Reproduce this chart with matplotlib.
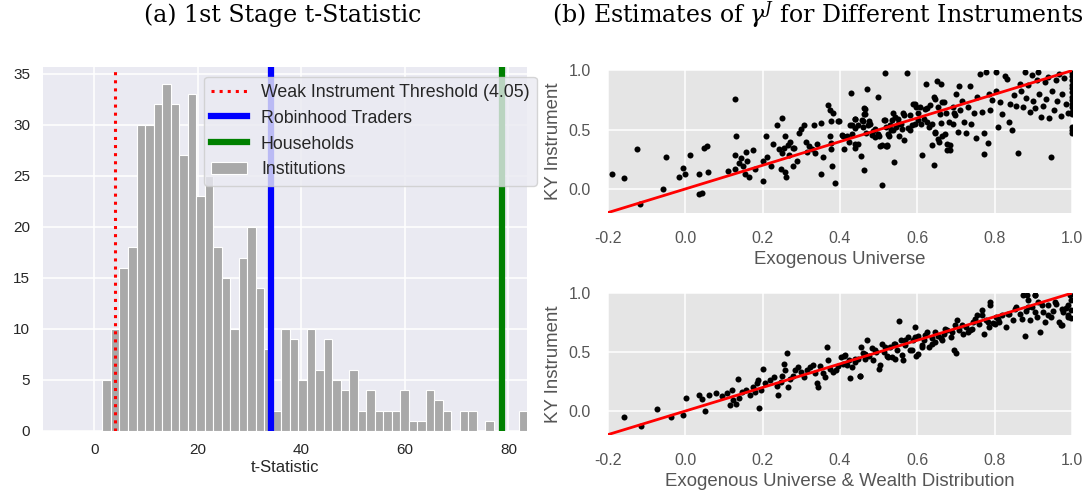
import numpy as np
import matplotlib
matplotlib.use("Agg")
import matplotlib.pyplot as plt

plt.rcParams['font.family'] = ['Liberation Sans', 'DejaVu Sans']
plt.rcParams['mathtext.fontset'] = 'dejavuserif'

# (a) first stage t-statistics: institutions histogram (50 equal bins)
t_lo, t_hi = 1.55, 83.75
inst_counts = [5, 10, 16, 18, 30, 30, 32, 34, 32, 27,
               33, 23, 25, 18, 15, 10, 17, 20, 14, 8,
               2, 10, 9, 5, 10, 6, 9, 5, 4, 6,
               2, 4, 2, 2, 2, 4, 1, 1, 4, 3,
               2, 0, 2, 2, 0, 1, 0, 0, 0, 2]
weak_threshold = 4.05
robinhood_t = 34.2
households_t = 78.7

# (b) gamma^J estimates, KY instrument vs exogenous universe
top_x = [-0.19, -0.157, -0.124, -0.117, -0.057, -0.05, -0.015, -0.006, 0.0, 0.012,
         0.036, 0.036, 0.043, 0.05, 0.056, 0.058, 0.11, 0.129, 0.131, 0.128,
         0.129, 0.138, 0.145, 0.149, 0.154, 0.158, 0.16, 0.164, 0.176, 0.18,
         0.2, 0.202, 0.21, 0.211, 0.222, 0.227, 0.238, 0.243, 0.247, 0.25,
         0.251, 0.256, 0.258, 0.259, 0.26, 0.265, 0.269, 0.272, 0.278, 0.282,
         0.278, 0.289, 0.293, 0.30, 0.307, 0.313, 0.316, 0.32, 0.327, 0.334,
         0.336, 0.34, 0.351, 0.351, 0.355, 0.369, 0.375, 0.382, 0.374, 0.377,
         0.378, 0.378, 0.38, 0.387, 0.396, 0.407, 0.411, 0.418, 0.422, 0.429,
         0.43, 0.438, 0.438, 0.44, 0.447, 0.455, 0.46, 0.462, 0.462, 0.465,
         0.469, 0.467, 0.473, 0.476, 0.485, 0.491, 0.497, 0.50, 0.504, 0.509,
         0.513, 0.518, 0.516, 0.518, 0.522, 0.526, 0.531, 0.535, 0.538, 0.54,
         0.544, 0.549, 0.553, 0.557, 0.562, 0.566, 0.573, 0.575, 0.582, 0.588,
         0.593, 0.597, 0.602, 0.609, 0.611, 0.618, 0.621, 0.624, 0.629, 0.637,
         0.642, 0.644, 0.646, 0.651, 0.653, 0.655, 0.658, 0.66, 0.662, 0.664,
         0.668, 0.673, 0.676, 0.677, 0.682, 0.691, 0.695, 0.70, 0.704, 0.707,
         0.71, 0.716, 0.719, 0.726, 0.731, 0.735, 0.739, 0.745, 0.751, 0.753,
         0.761, 0.766, 0.771, 0.773, 0.777, 0.782, 0.784, 0.788, 0.793, 0.802,
         0.802, 0.808, 0.813, 0.819, 0.825, 0.83, 0.837, 0.839, 0.843, 0.849,
         0.855, 0.859, 0.864, 0.868, 0.872, 0.877, 0.881, 0.886, 0.89, 0.895,
         0.899, 0.904, 0.908, 0.911, 0.914, 0.919, 0.923, 0.929, 0.932, 0.938,
         0.941, 0.944, 0.948, 0.952, 0.957, 0.961, 0.965, 0.97, 0.974, 0.979,
         0.984, 0.988, 0.998, 0.998, 0.998, 0.998, 0.998, 0.998, 0.998, 0.998,
         0.998, 0.998, 0.998, 0.998, 0.998, 0.998, 0.998,
         0.516, 0.529, 0.542, 0.538, 0.551, 0.559, 0.564, 0.525, 0.508, 0.521,
         0.499, 0.490, 0.482, 0.465, 0.463, 0.439, 0.426, 0.413, 0.439, 0.594,
         0.607, 0.620, 0.633, 0.645, 0.663, 0.645, 0.654, 0.671, 0.684, 0.684,
         0.693, 0.697, 0.624, 0.637, 0.602, 0.585, 0.581, 0.478, 0.456, 0.460,
         0.447, 0.430, 0.404, 0.397]
top_y = [0.13, 0.09, 0.34, -0.13, 0.00, 0.27, 0.10, 0.18, 0.13, 0.29,
         0.13, -0.045, -0.03, 0.35, 0.36, 0.14, 0.15, 0.76, 0.45, 0.29,
         0.17, 0.22, 0.26, 0.19, 0.13, 0.31, 0.24, 0.10, 0.33, 0.17,
         0.07, 0.24, 0.45, 0.27, 0.19, 0.38, 0.54, 0.34, 0.17, 0.60,
         0.30, 0.35, 0.45, 0.14, 0.10, 0.375, 0.29, 0.40, 0.35, 0.35,
         0.19, 0.24, 0.47, 0.51, 0.54, 0.40, 0.31, 0.36, 0.34, 0.54,
         0.305, 0.38, 0.56, 0.13, 0.27, 0.71, 0.67, 0.64, 0.45, 0.39,
         0.34, 0.57, 0.19, 0.05, 0.57, 0.45, 0.34, 0.45, 0.40, 0.81,
         0.54, 0.515, 0.35, 0.59, 0.38, 0.28, 0.57, 0.16, 0.68, 0.63,
         0.84, 0.47, 0.54, 0.57, 0.49, 0.44, 0.78, 0.45, 0.36, 0.03,
         0.585, 0.52, 0.98, 0.36, 0.36, 0.45, 0.50, 0.585, 0.64, 0.23,
         0.52, 0.59, 0.45, 0.55, 0.64, 0.41, 0.98, 0.515, 0.50, 0.72,
         0.55, 0.69, 0.64, 0.55, 0.29, 0.59, 0.89, 0.68, 0.52, 0.37,
         0.78, 0.20, 0.47, 0.91, 0.69, 0.40, 0.63, 0.89, 0.56, 0.45,
         0.735, 0.64, 0.38, 0.33, 0.565, 0.69, 0.64, 0.80, 0.48, 0.865,
         0.665, 0.74, 0.565, 0.47, 0.69, 0.87, 0.55, 0.645, 0.43, 0.78,
         0.97, 0.65, 0.295, 0.47, 0.985, 0.39, 0.80, 0.665, 0.75, 0.985,
         0.83, 0.52, 0.73, 0.63, 0.95, 0.93, 0.565, 0.72, 0.50, 0.79,
         0.70, 0.305, 0.89, 0.83, 0.69, 0.985, 0.77, 0.88, 0.65, 0.96,
         0.74, 0.68, 0.92, 0.985, 0.80, 0.61, 0.70, 0.90, 0.76, 0.945,
         0.595, 0.27, 0.83, 0.665, 0.92, 0.745, 0.97, 0.62, 0.80, 0.935,
         0.72, 0.64, 0.98, 0.95, 0.92, 0.88, 0.85, 0.82, 0.78, 0.75,
         0.72, 0.69, 0.65, 0.63, 0.52, 0.50, 0.47,
         0.579, 0.537, 0.607, 0.495, 0.551, 0.509, 0.621, 0.466, 0.368, 0.368,
         0.466, 0.509, 0.453, 0.677, 0.635, 0.593, 0.537, 0.438, 0.382, 0.719,
         0.691, 0.677, 0.706, 0.761, 0.734, 0.481, 0.424, 0.466, 0.368, 0.326,
         0.551, 0.621, 0.565, 0.551, 0.579, 0.537, 0.621, 0.551, 0.579, 0.523,
         0.537, 0.466, 0.453, 0.571]

# KY instrument vs exogenous universe & wealth distribution
bot_x = [-0.157, -0.115, -0.073, -0.036, -0.005, 0.001, 0.036, 0.044, 0.051, 0.062,
         0.081, 0.096, 0.109, 0.115, 0.121, 0.124, 0.131, 0.137, 0.14, 0.147,
         0.158, 0.167, 0.176, 0.18, 0.185, 0.189, 0.192, 0.195, 0.20, 0.207,
         0.218, 0.229, 0.236, 0.24, 0.247, 0.251, 0.256, 0.258, 0.262, 0.265,
         0.271, 0.278, 0.284, 0.291, 0.298, 0.307, 0.316, 0.322, 0.331, 0.336,
         0.34, 0.344, 0.349, 0.355, 0.362, 0.367, 0.369, 0.375, 0.382, 0.389,
         0.396, 0.402, 0.407, 0.411, 0.417, 0.423, 0.426, 0.431, 0.438, 0.447,
         0.451, 0.455, 0.46, 0.464, 0.47, 0.476, 0.482, 0.486, 0.493, 0.50,
         0.504, 0.509, 0.513, 0.522, 0.529, 0.535, 0.54, 0.547, 0.553, 0.557,
         0.562, 0.568, 0.575, 0.582, 0.589, 0.593, 0.597, 0.602, 0.611, 0.618,
         0.624, 0.629, 0.637, 0.646, 0.653, 0.66, 0.668, 0.677, 0.686, 0.695,
         0.70, 0.701, 0.708, 0.717, 0.726, 0.735, 0.744, 0.753, 0.76, 0.766,
         0.771, 0.778, 0.784, 0.788, 0.795, 0.802, 0.81, 0.819, 0.828, 0.837,
         0.846, 0.855, 0.864, 0.872, 0.877, 0.881, 0.886, 0.89, 0.896, 0.903,
         0.908, 0.912, 0.917, 0.923, 0.93, 0.937, 0.944, 0.95, 0.957, 0.965,
         0.97, 0.976, 0.983, 0.99, 0.997, 0.997, 0.997,
         0.413, 0.452, 0.439, 0.465, 0.490, 0.516, 0.542, 0.568, 0.594, 0.620,
         0.645, 0.671, 0.697, 0.525, 0.559, 0.585, 0.611, 0.637, 0.663, 0.689,
         0.542, 0.602, 0.973, 0.787, 0.714, 0.740, 0.766, 0.783, 0.809, 0.835,
         0.852, 0.869, 0.886, 0.904, 0.921, 0.938, 0.955, 0.973, 0.990, 0.990,
         0.994, 0.904, 0.882, 0.80, 0.749, 0.731]
bot_y = [-0.05, -0.13, 0.015, -0.05, -0.03, 0.11, 0.135, 0.10, 0.0, 0.135,
         0.155, 0.13, 0.15, 0.05, 0.18, 0.09, 0.06, 0.27, 0.11, 0.165,
         0.18, 0.14, 0.205, 0.165, 0.235, 0.26, 0.03, 0.18, 0.36, 0.235,
         0.26, 0.29, 0.21, 0.135, 0.25, 0.30, 0.40, 0.345, 0.49, 0.205,
         0.275, 0.30, 0.345, 0.37, 0.33, 0.29, 0.345, 0.37, 0.39, 0.32,
         0.235, 0.205, 0.38, 0.325, 0.285, 0.54, 0.435, 0.36, 0.33, 0.35,
         0.38, 0.46, 0.40, 0.47, 0.39, 0.43, 0.28, 0.37, 0.415, 0.445,
         0.30, 0.545, 0.49, 0.445, 0.60, 0.47, 0.53, 0.43, 0.50, 0.36,
         0.39, 0.57, 0.50, 0.465, 0.54, 0.46, 0.57, 0.52, 0.765, 0.60,
         0.43, 0.56, 0.63, 0.515, 0.60, 0.71, 0.465, 0.635, 0.56, 0.60,
         0.67, 0.54, 0.615, 0.585, 0.64, 0.62, 0.655, 0.685, 0.63, 0.515,
         0.49, 0.77, 0.69, 0.655, 0.71, 0.685, 0.755, 0.81, 0.735, 0.855,
         0.655, 0.77, 0.71, 0.92, 0.745, 0.80, 0.755, 0.81, 0.71, 0.82,
         0.775, 0.88, 0.825, 0.98, 0.635, 0.85, 0.94, 0.77, 0.88, 0.985,
         0.80, 0.925, 0.67, 0.84, 0.755, 0.895, 0.80, 0.85, 0.91, 0.755,
         0.73, 0.835, 0.87, 0.80, 0.94, 0.855, 0.785,
         0.472, 0.297, 0.443, 0.486, 0.514, 0.542, 0.571, 0.599, 0.627, 0.641,
         0.669, 0.698, 0.726, 0.458, 0.472, 0.514, 0.542, 0.571, 0.599, 0.669,
         0.443, 0.486, 0.726, 0.896, 0.726, 0.698, 0.811, 0.754, 0.782, 0.825,
         0.867, 0.782, 0.881, 0.839, 0.896, 0.811, 0.924, 0.867, 0.896, 0.811,
         0.98, 0.98, 0.98, 0.74, 0.782, 0.669]

fig = plt.figure(figsize=(10.9, 4.95), dpi=100)

# ---- left panel: seaborn darkgrid look ----
ax = fig.add_axes([0.0392, 0.1293, 0.4443, 0.736])
ax.set_facecolor('#EAEAF2')
for s in ax.spines.values():
    s.set_visible(False)
ax.grid(True, color='white', linewidth=1.1)
ax.set_axisbelow(True)

edges = np.linspace(t_lo, t_hi, len(inst_counts) + 1)
centers = (edges[:-1] + edges[1:]) / 2
ax.hist(centers, bins=edges, weights=inst_counts, color='darkgray',
        edgecolor='white', linewidth=0.8, label='Institutions')
ax.axvline(weak_threshold, color='red', linestyle=':', linewidth=2.2,
           label='Weak Instrument Threshold (4.05)')
ax.axvline(robinhood_t, color='blue', linewidth=4.5, label='Robinhood Traders')
ax.axvline(households_t, color='green', linewidth=4.5, label='Households')

ax.set_xlim(-10, 83.6)
ax.set_ylim(0, 35.7)
ax.set_xticks([0, 20, 40, 60, 80])
ax.set_yticks(range(0, 36, 5))
ax.tick_params(length=0, labelsize=11, labelcolor='#262626')
ax.tick_params(axis='x', pad=9)
ax.tick_params(axis='y', pad=9)
ax.set_xlabel('t-Statistic', fontsize=12, color='#262626', labelpad=2)

# lines first, histogram patch last (as in the original legend)
handles, labels = ax.get_legend_handles_labels()
order = [1, 2, 3, 0]
leg = ax.legend([handles[i] for i in order], [labels[i] for i in order],
                loc='upper left', bbox_to_anchor=(0.333, 0.9726), borderaxespad=0,
                fontsize=12.8, facecolor='#EAEAF2', edgecolor='#CCCCCC',
                framealpha=0.8, handlelength=2.0)
for t in leg.get_texts():
    t.set_color('#262626')

# ---- right panels: ggplot look ----
def gg_panel(rect, xs, ys, xlabel):
    a = fig.add_axes(rect)
    a.set_facecolor('#E5E5E5')
    for s in a.spines.values():
        s.set_visible(False)
    a.grid(True, color='white', linewidth=1.1)
    a.set_axisbelow(True)
    a.scatter(xs, ys, s=19, color='black', zorder=2, linewidths=0)
    a.plot([-0.2, 1.0], [-0.2, 1.0], color='red', linewidth=2, zorder=3)
    a.set_xlim(-0.2, 1.0)
    a.set_ylim(-0.2, 1.0)
    a.set_xticks([-0.2, 0.0, 0.2, 0.4, 0.6, 0.8, 1.0])
    a.set_yticks([0.0, 0.5, 1.0])
    a.xaxis.set_major_formatter(matplotlib.ticker.FormatStrFormatter('%.1f'))
    a.yaxis.set_major_formatter(matplotlib.ticker.FormatStrFormatter('%.1f'))
    a.tick_params(length=0, labelsize=11.5, labelcolor='#555555')
    a.tick_params(axis='x', pad=13)
    a.tick_params(axis='y', pad=12)
    a.set_xlabel(xlabel, fontsize=13.4, color='#555555', labelpad=4)
    a.set_ylabel('KY Instrument', fontsize=13.4, color='#555555', labelpad=5)
    return a

gg_panel([0.5575, 0.5703, 0.4263, 0.2873], top_x, top_y, 'Exogenous Universe')
gg_panel([0.5575, 0.1218, 0.4263, 0.2863], bot_x, bot_y,
         'Exogenous Universe & Wealth Distribution')

fig.text(283 / 1090, 1 - 15 / 495, '(a) 1st Stage t-Statistic', family='DejaVu Serif',
         fontsize=17, ha='center', va='center', color='black')
fig.text(818 / 1090, 1 - 15 / 495, r'(b) Estimates of $\gamma^J$ for Different Instruments',
         family='DejaVu Serif', fontsize=17, ha='center', va='center', color='black')

fig.savefig('out.png', dpi=100)
